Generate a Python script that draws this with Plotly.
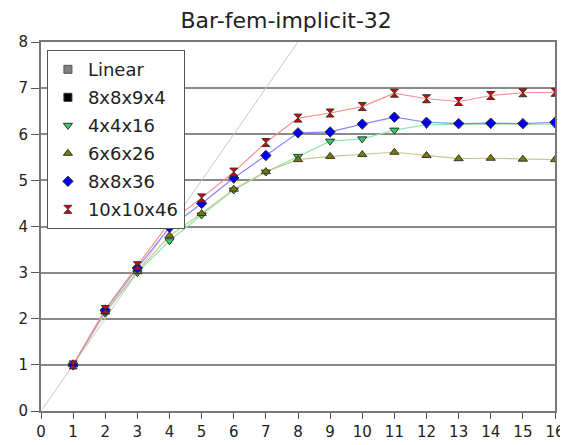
import plotly.graph_objects as go

threads = [1, 2, 3, 4, 5, 6, 7, 8, 9, 10, 11, 12, 13, 14, 15, 16]
linear_x = [0, 16]
linear_y = [0, 16]
s_4x4x16 = [1.0, 2.12, 3.0, 3.69, 4.25, 4.79, 5.18, 5.52, 5.85, 5.9, 6.09, 6.21, 6.21, 6.21, 6.21, 6.22]
s_6x6x26 = [1.0, 2.15, 3.02, 3.8, 4.28, 4.81, 5.19, 5.45, 5.52, 5.56, 5.61, 5.54, 5.47, 5.48, 5.46, 5.45]
s_8x8x36 = [1.0, 2.19, 3.1, 3.98, 4.5, 5.05, 5.54, 6.03, 6.05, 6.22, 6.37, 6.26, 6.23, 6.24, 6.23, 6.26]
s_10x10x46 = [1.0, 2.2, 3.15, 4.09, 4.62, 5.18, 5.82, 6.35, 6.46, 6.6, 6.89, 6.77, 6.71, 6.84, 6.9, 6.91]
x_ticks = list(range(0, 17))
y_ticks = list(range(0, 9))

series = [
    ("4x4x16", s_4x4x16, "#33cc66", "#90e8b0", "triangle-down"),
    ("6x6x26", s_6x6x26, "#7a7a00", "#c8c890", "triangle-up"),
    ("8x8x36", s_8x8x36, "#0000ee", "#8888ff", "diamond"),
    ("10x10x46", s_10x10x46, "#dd0000", "#ff9090", "hourglass"),
]

fig = go.Figure()
fig.add_trace(go.Scatter(x=linear_x, y=linear_y, mode="lines",
                         line=dict(color="#c8c8c8", width=1), showlegend=False,
                         hoverinfo="skip"))
for name, ys, mc, lc, sym in series:
    fig.add_trace(go.Scatter(x=threads, y=ys, mode="lines",
                             line=dict(color=lc, width=1.2), showlegend=False))

fig.add_trace(go.Scatter(x=[None], y=[None], mode="markers", name="Linear",
                         legendgroup="g0",
                         marker=dict(symbol="square", color="#808080", size=8,
                                     line=dict(color="#555", width=1))))
fig.add_trace(go.Scatter(x=[None], y=[None], mode="markers", name="8x8x9x4",
                         legendgroup="g1",
                         marker=dict(symbol="square", color="#000000", size=8,
                                     line=dict(color="#333", width=1))))
for i, (name, ys, mc, lc, sym) in enumerate(series):
    fig.add_trace(go.Scatter(x=threads, y=ys, mode="markers", name=name,
                             legendgroup="s%d" % i,
                             marker=dict(symbol=sym, color=mc, size=8,
                                         line=dict(color="#333333", width=1))))

# page body has an 8px margin, so the figure is 8px smaller than the window
fig.update_layout(
    width=560, height=437,
    margin=dict(l=33, r=3, t=34, b=34),
    paper_bgcolor="white", plot_bgcolor="white",
    font=dict(family="DejaVu Sans", color="#222"),
    title=dict(text="Bar-fem-implicit-32", x=0.477, xref="paper", xanchor="center",
               y=1 - 12 / 437, yref="container", yanchor="middle",
               font=dict(size=22, color="#222")),
    showlegend=True,
    legend=dict(x=0.0115, y=0.978, xanchor="left", yanchor="top",
                bgcolor="white", bordercolor="#555", borderwidth=1,
                font=dict(size=18, color="#222"), itemwidth=30,
                tracegroupgap=1.6),
)
fig.update_xaxes(range=[0, 16], tickvals=x_ticks, ticks="outside", ticklen=6,
                 tickcolor="#555", showgrid=False, zeroline=False,
                 showline=True, linecolor="#777", linewidth=2, mirror=True,
                 ticklabeloverflow="allow",
                 tickfont=dict(size=15, color="#222"))
fig.update_yaxes(range=[0, 8], tickvals=y_ticks, ticks="outside", ticklen=8,
                 tickcolor="#555", showgrid=True, gridcolor="#8a8a8a", gridwidth=2,
                 zeroline=False, showline=True, linecolor="#777", linewidth=2, mirror=True,
                 tickfont=dict(size=15, color="#222"))

fig.write_html("out.html")
